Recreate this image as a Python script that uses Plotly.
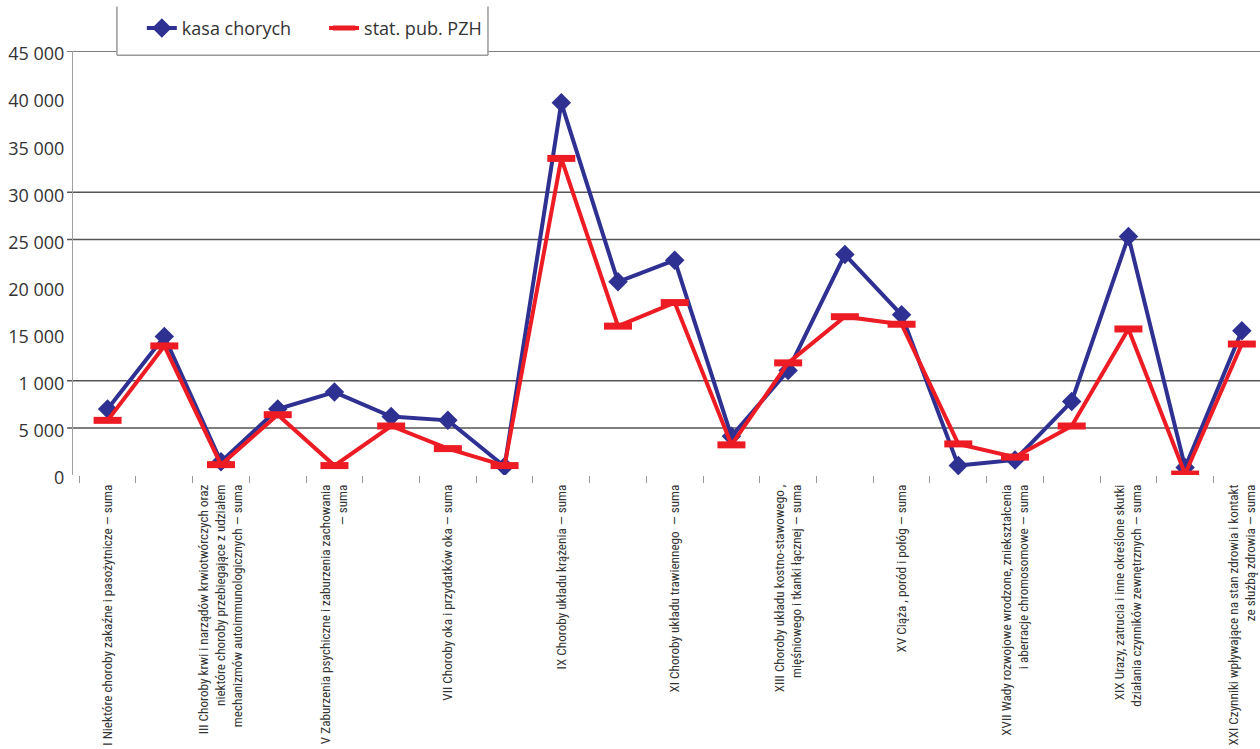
import plotly.graph_objects as go

# Disease groups (ICD-10 chapters) in chart order
chapters = ["I", "II", "III", "IV", "V", "VI", "VII", "VIII", "IX", "X", "XI",
            "XII", "XIII", "XIV", "XV", "XVI", "XVII", "XVIII", "XIX", "XX", "XXI"]

# Axis labels (only odd chapters are labelled)
chapter_labels = [
    "I Niektóre choroby zakaźne i pasożytnicze — suma",
    "",
    "III Choroby krwi i narządów krwiotwórczych oraz<br>niektóre choroby przebiegające z udziałem<br>mechanizmów autoimmunologicznych — suma",
    "",
    "V Zaburzenia psychiczne i zaburzenia zachowania<br>— suma",
    "",
    "VII Choroby oka i przydatków oka — suma",
    "",
    "IX Choroby układu krążenia — suma",
    "",
    "XI Choroby układu trawiennego  — suma",
    "",
    "XIII Choroby układu kostno-stawowego ,<br>mięśniowego i tkanki łącznej — suma",
    "",
    "XV Ciąża , poród i połóg — suma",
    "",
    "XVII Wady rozwojowe wrodzone, zniekształcenia<br>i aberracje chromosomowe — suma",
    "",
    "XIX Urazy, zatrucia i inne określone skutki<br>działania czynników zewnętrznych — suma",
    "",
    "XXI Czynniki wpływające na stan zdrowia i kontakt<br>ze służbą zdrowia — suma",
]

# Series values
kasa_chorych = [7000, 14700, 1400, 7000, 8800, 6200, 5800, 900, 39500, 20500, 22800,
                4100, 11100, 23400, 17000, 1000, 1600, 7800, 25300, 800, 15300]
stat_pub_pzh = [5800, 13700, 1100, 6400, 1000, 5200, 2800, 1000, 33600, 15800, 18300,
                3200, 11900, 16800, 16000, 3300, 1900, 5200, 15500, 100, 13900]

# Value axis ticks (labels as printed)
y_tick_values = [0, 5000, 10000, 15000, 20000, 25000, 30000, 35000, 40000, 45000]
y_tick_labels = ["0", "5 000", "1 000", "15 000", "20 000", "25 000",
                 "30 000", "35 000", "40 000", "45 000"]

# Horizontal rules drawn across the plot
rule_values = [5000, 10000, 25000, 30000, 45000]

BLUE = "#2E3192"
RED = "#ED1C24"
TEXT = "#333333"
LEGEND_FONT = dict(family="Open Sans, Lato, sans-serif", size=18, color=TEXT)

fig = go.Figure()

fig.add_trace(go.Scatter(
    x=chapters, y=kasa_chorych, name="kasa chorych", mode="lines+markers",
    line=dict(color=BLUE, width=4),
    marker=dict(symbol="diamond", size=15, color=BLUE),
    legend="legend",
))
fig.add_trace(go.Scatter(
    x=chapters, y=stat_pub_pzh, name="stat. pub. PZH", mode="lines+markers",
    line=dict(color=RED, width=4),
    marker=dict(symbol="line-ew", size=20, color=RED,
                line=dict(color=RED, width=7)),
    legend="legend2",
))

# Horizontal rules with a short tick to the left of the axis
for v in rule_values:
    fig.add_shape(type="line", xref="paper", yref="y",
                  x0=-0.005, x1=1, y0=v, y1=v,
                  line=dict(color="#555555", width=1.5), layer="below")

# Legend box (white panel with side and bottom borders)
lx0, lx1, ly0, ly1 = 0.037, 0.3496, 0.990, 1.105
fig.add_shape(type="rect", xref="paper", yref="paper", x0=lx0, x1=lx1, y0=ly0, y1=ly1,
              fillcolor="white", line=dict(width=0), layer="above")
for (ax0, ay0, ax1, ay1) in [(lx0, ly0, lx0, ly1), (lx1, ly0, lx1, ly1), (lx0, ly0, lx1, ly0)]:
    fig.add_shape(type="line", xref="paper", yref="paper", x0=ax0, y0=ay0, x1=ax1, y1=ay1,
                  line=dict(color="#9a9a9a", width=1.5), layer="above")

legend_common = dict(orientation="h", xanchor="left", yanchor="top", y=1.097,
                     bgcolor="rgba(0,0,0,0)", borderwidth=0, font=LEGEND_FONT)

fig.update_layout(
    width=1260, height=749,
    margin=dict(l=73, r=0, t=51, b=274),
    paper_bgcolor="white", plot_bgcolor="white",
    showlegend=True,
    legend=dict(x=0.058, **legend_common),
    legend2=dict(x=0.2115, **legend_common),
    xaxis=dict(
        type="category", range=[-0.61, 20.32],
        tickmode="array", tickvals=chapters, ticktext=chapter_labels,
        tickangle=-90, tickson="boundaries",
        ticks="outside", ticklen=7, tickcolor="#999999", tickwidth=1,
        ticklabelstandoff=6,
        showgrid=False, showline=False, zeroline=False, automargin=False,
        tickfont=dict(family="Liberation Sans Narrow, Roboto Condensed, DejaVu Sans Condensed, Liberation Sans, sans-serif",
                      size=13.2, color=TEXT),
    ),
    yaxis=dict(
        range=[0, 45000],
        tickmode="array", tickvals=y_tick_values, ticktext=y_tick_labels,
        showgrid=False, zeroline=False, automargin=False,
        showline=True, linecolor="#a0a0a0", linewidth=1,
        ticks="", ticklabelstandoff=4, ticklabelshift=3,
        tickfont=dict(family="Open Sans, Lato, sans-serif", size=18, color=TEXT),
    ),
)

fig.write_html("out.html")
